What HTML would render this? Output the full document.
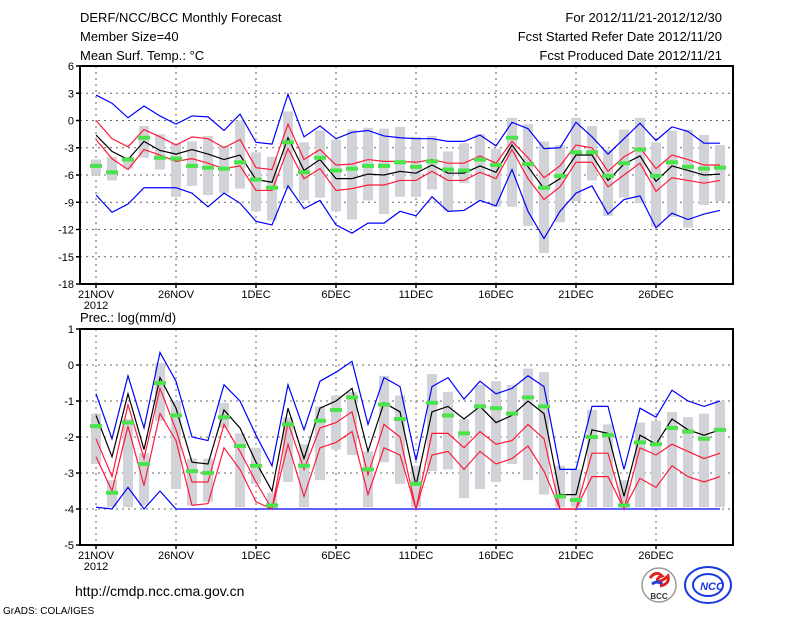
<!DOCTYPE html>
<html><head><meta charset="utf-8"><style>
body{margin:0;background:#fff;width:800px;height:618px;overflow:hidden}
svg{display:block;font-family:"Liberation Sans",sans-serif}
</style></head><body>
<svg id="chart" width="800" height="618" viewBox="0 0 800 618">
<g font-size="13" fill="#000">
<text x="80" y="22">DERF/NCC/BCC Monthly Forecast</text>
<text x="80" y="41">Member Size=40</text>
<text x="80" y="60">Mean Surf. Temp.: °C</text>
<text x="722" y="22" text-anchor="end">For 2012/11/21-2012/12/30</text>
<text x="722" y="41" text-anchor="end">Fcst Started Refer Date 2012/11/20</text>
<text x="722" y="60" text-anchor="end">Fcst Produced Date 2012/11/21</text>
<text x="80" y="322">Prec.: log(mm/d)</text>
<text x="75" y="596" font-size="14">http://cmdp.ncc.cma.gov.cn</text>
<text x="3" y="614" font-size="10">GrADS: COLA/IGES</text>
</g>
<g>
<circle cx="659" cy="585" r="17" fill="#fff" stroke="#999" stroke-width="1.5"/>
<path d="M650 578 q6 -8 12 -2 q-6 2 -4 6 q6 -2 10 -6 q2 8 -8 10" fill="none" stroke="#e02020" stroke-width="3"/>
<path d="M652 584 q6 -4 10 0" fill="none" stroke="#2040d0" stroke-width="3"/>
<text x="659" y="599" font-size="8" text-anchor="middle" font-weight="bold" fill="#333">BCC</text>
</g>
<g>
<ellipse cx="708" cy="585" rx="23" ry="18" fill="#fff" stroke="#1a3ae0" stroke-width="2"/>
<ellipse cx="708" cy="585" rx="15" ry="11" fill="none" stroke="#1a3ae0" stroke-width="2"/>
<text x="712" y="590" font-size="11" text-anchor="middle" font-style="italic" font-weight="bold" fill="#1a3ae0">NCC</text>
</g>
<g id="panels"></g>
</svg>
<script>
// ---- temperature panel data ----
const tMax=[2.8,1.9,0.3,1.6,0.5,-0.4,0.5,0.4,-1.1,0.7,-2.4,-2.6,2.9,-1.8,-0.6,-2,-1.3,-1.1,-1.7,-1.9,-2,-2,-2.3,-2.3,-1.6,-2.8,-0.2,-0.9,-3.1,-3,-0.2,-1.8,-3.7,-2,-0.3,-2.2,-0.7,-1.2,-2.5,-2.5];
const tUp=[0,-2,-2.9,-1,-1.8,-2.7,-1.8,-2,-3,-2.1,-5.2,-5.4,-0.4,-4.3,-3.2,-4.9,-4.8,-4.3,-4.5,-4.5,-4.6,-4.3,-4.7,-4.7,-3.9,-4.7,-2.3,-4.1,-6.3,-5,-2.7,-3,-5.6,-4,-3,-5.3,-3.8,-4.3,-4.9,-4.9];
const tMean=[-1.6,-3.4,-4.3,-2.3,-3.3,-3.7,-3.2,-3.7,-4.3,-3.8,-6.5,-6.8,-1.9,-5.5,-4.3,-6.4,-6.4,-5.9,-6,-5.6,-5.8,-4.9,-5.8,-5.8,-5,-5.7,-2.7,-5.1,-7.5,-6.4,-3.8,-3.8,-6.6,-4.8,-3.9,-6.7,-5,-5.5,-6,-5.9];
const tLow=[-2.1,-4.2,-5.4,-3.2,-3.8,-4.5,-4.2,-4.7,-5.3,-5,-7.7,-7.7,-3.1,-6.4,-5.3,-7.7,-7.5,-7.1,-7.1,-6.6,-6.6,-5.6,-6.6,-6.6,-5.7,-6.4,-3.2,-6.4,-8.7,-7.3,-4.6,-4.6,-7.3,-6,-4.7,-7.8,-6.3,-6.6,-6.9,-6.6];
const tMin=[-8.2,-10.1,-9.2,-7.4,-7.4,-7.4,-8,-9.5,-8,-9.1,-11.1,-11.5,-7.2,-9.7,-8.8,-11.5,-12.4,-11.3,-11.3,-10,-10.5,-8.4,-10,-9.9,-8.8,-9.4,-5.4,-10,-13,-10,-8,-7.2,-10.3,-8.7,-8.3,-11.8,-10.2,-10.9,-10.3,-9.9];
const tObs=[-5,-5.7,-4.3,-1.9,-4.1,-4.2,-5,-5.2,-5.3,-4.6,-6.5,-7.4,-2.4,-5.7,-4.1,-5.5,-5.3,-5,-5,-4.6,-5.1,-4.5,-5.4,-5.5,-4.3,-4.9,-1.9,-4.8,-7.4,-6.1,-3.5,-3.5,-6.1,-4.7,-3.2,-6.1,-4.6,-5.1,-5.3,-5.2];
const tBarHi=[-4.3,-4,-4,-0.6,-1.5,-2.5,-2.3,-1.7,-2.8,0,-3.5,-4,1,-2.4,-1.1,-2.1,-1,-0.8,-0.9,-0.7,-1.8,-1.7,-3.4,-2.5,-1.5,-3.1,0.3,-0.4,-2.3,-2.7,0.3,-0.6,-3.2,-1,0.3,-2.4,-1.1,-1,-1.6,-2.7];
const tBarLo=[-6,-6.6,-5.3,-4.1,-5.4,-8.4,-7.2,-8.2,-8,-7.5,-10,-11,-7.5,-8.8,-8.5,-10,-10.9,-8.8,-10.3,-8.4,-8.4,-7.6,-9.9,-6.9,-8.8,-9.5,-9.5,-11.6,-14.6,-11.2,-8.9,-6.6,-10.5,-8.5,-9.1,-11.7,-10.6,-11.8,-9.3,-8.9];
const tTicks=[6,3,0,-3,-6,-9,-12,-15,-18];
// ---- precipitation panel data ----
const pMax=[-0.8,-2.05,-0.3,-1.75,0.35,-0.45,-2,-2.1,-0.55,-1,-1.95,-2.8,-0.55,-1.8,-0.45,-0.2,0.1,-1.65,-0.35,-0.6,-2.65,-0.6,-0.35,-0.95,-0.45,-0.8,-0.65,-0.3,-0.6,-2.9,-2.9,-1.15,-1.15,-2.9,-1.2,-1.45,-0.7,-1,-1.15,-1];
const pUp=[-2.05,-3.1,-1.1,-2.6,-0.65,-1.8,-3.25,-3.25,-1.65,-2.4,-3.25,-4,-1.6,-2.9,-1.75,-1.6,-1.3,-3.05,-1.65,-2,-4,-1.9,-1.9,-2.3,-1.85,-2.2,-2.1,-1.65,-2.05,-4,-4,-2.45,-2.45,-4,-2.3,-2.5,-2.2,-2.4,-2.6,-2.45];
const pMean=[-1.4,-2.55,-0.8,-2.35,-0.35,-1.2,-2.7,-2.75,-1.25,-1.75,-2.7,-3.5,-1.2,-2.6,-1.2,-1,-0.65,-2.4,-1.05,-1.3,-3.35,-1.3,-1.15,-1.5,-1.15,-1.6,-1.4,-1,-1.35,-3.6,-3.6,-1.8,-1.9,-3.65,-1.95,-2.2,-1.5,-1.8,-1.95,-1.8];
const pLow=[-2.55,-3.5,-1.7,-3.35,-1.35,-2.1,-3.9,-3.85,-2.3,-2.9,-3.8,-4,-2.2,-3.65,-2.3,-2.15,-1.85,-3.6,-2.3,-2.5,-4,-2.5,-2.4,-2.9,-2.4,-2.75,-2.6,-2.25,-2.95,-4,-4,-3.1,-3.1,-4,-3.15,-3.4,-2.8,-3.1,-3.25,-3.1];
const pMin=[-3.95,-4,-3.4,-4,-3.5,-4,-4,-4,-4,-4,-4,-4,-4,-4,-4,-4,-4,-4,-4,-4,-4,-4,-4,-4,-4,-4,-4,-4,-4,-4,-4,-4,-4,-4,-4,-4,-4,-4,-4,-4];
const pObs=[-1.7,-3.55,-1.6,-2.75,-0.5,-1.4,-2.95,-3,-1.45,-2.25,-2.8,-3.9,-1.65,-2.8,-1.55,-1.25,-0.9,-2.9,-1.1,-1.5,-3.3,-1.05,-1.4,-1.9,-1.15,-1.2,-1.35,-0.9,-1.15,-3.65,-3.75,-2,-1.95,-3.9,-2.15,-2.2,-1.75,-1.85,-2.05,-1.8];
const pBarHi=[-1.35,-3.2,-1.5,-2.45,0.05,-1,-2.6,-2.6,-1.05,-1.9,-2.3,-3.55,-1.45,-2.2,-1.15,-0.85,-0.75,-2.4,-0.3,-0.85,-2.8,-0.25,-0.75,-1.5,-0.55,-0.45,-0.55,-0.1,-0.2,-2.8,-2.9,-1.25,-1.65,-3.2,-1.6,-1.55,-1.3,-1.45,-1.35,-1];
const pBarLo=[-2.75,-3.95,-3.95,-3.9,-1.55,-3.45,-3.9,-3.8,-1.75,-3.95,-3.3,-4,-3.25,-3.95,-3.2,-2.35,-2.5,-3.95,-2.7,-3.3,-3.95,-2.95,-2.9,-3.7,-3.45,-3.25,-2.75,-3.2,-3.6,-3.95,-3.95,-3.95,-3.95,-3.95,-3.95,-3.95,-3.95,-3.95,-3.95,-3.95];
const pTicks=[1,0,-1,-2,-3,-4,-5];
const dateLabels=["21NOV","26NOV","1DEC","6DEC","11DEC","16DEC","21DEC","26DEC"];

const NS="http://www.w3.org/2000/svg";
const root=document.getElementById('panels');
const X0=96,DX=16,LEFT=80,RIGHT=733;
function xs(i){return X0+i*DX;}
function mk(tag,attrs,parent){const e=document.createElementNS(NS,tag);for(const k in attrs)e.setAttribute(k,attrs[k]);(parent||root).appendChild(e);return e;}

function panel(name,top,bottom,vmax,vmin,ticks,series,bars,obs){
  const g=mk('g',{});
  
  
  const ys=v=>top+(vmax-v)/(vmax-vmin)*(bottom-top);
  // grid
  ticks.forEach(t=>{
    if(t!==vmax&&t!==vmin){const l=mk('line',{x1:LEFT,x2:RIGHT,y1:ys(t),y2:ys(t),stroke:'#666','stroke-dasharray':'2,4','stroke-width':1},g);
    
    }
    const tk=mk('line',{x1:LEFT-4,x2:LEFT,y1:ys(t),y2:ys(t),stroke:'#000','stroke-width':1.5},g);
    
    
    const tx=mk('text',{x:LEFT-6,y:ys(t)+4,'text-anchor':'end','font-size':11},g);
    tx.textContent=String(t);
    
    
  });
  dateLabels.forEach((d,k)=>{
    const x=xs(k*5);
    const l=mk('line',{x1:x,x2:x,y1:top,y2:bottom,stroke:'#666','stroke-dasharray':'2,4','stroke-width':1},g);
    
    
    const tk=mk('line',{x1:x,x2:x,y1:bottom,y2:bottom+4,stroke:'#000','stroke-width':1.5},g);
    
    
    const tx=mk('text',{x:x,y:bottom+14,'text-anchor':'middle','font-size':11},g);
    tx.textContent=d;
    
    
  });
  const yr=mk('text',{x:xs(0),y:bottom+25,'text-anchor':'middle','font-size':11},g);
  yr.textContent='2012';
  
  
  // bars
  bars[0].forEach((hi,i)=>{
    const lo=bars[1][i];
    const r=mk('rect',{x:xs(i)-5,y:ys(hi),width:10,height:Math.max(1,ys(lo)-ys(hi)),fill:'#d2d3d8'},g);
    
    
  });
  // lines
  series.forEach(s=>{
    const p=mk('polyline',{points:s.d.map((v,i)=>xs(i)+','+ys(v)).join(' '),fill:'none',stroke:s.c,'stroke-width':1.2},g);
    
    
  });
  // obs
  obs.forEach((v,i)=>{
    const r=mk('rect',{x:xs(i)-6,y:ys(v)-2,width:12,height:4,fill:'#4be34b'},g);
    
    
  });
  const f=mk('rect',{x:LEFT,y:top,width:RIGHT-LEFT,height:bottom-top,fill:'none',stroke:'#000','stroke-width':2},g);
  
  
}
panel('temperature-panel',66,284,6,-18,tTicks,[
  {d:tMax,c:'#0000ff',n:'max-line'},{d:tMin,c:'#0000ff',n:'min-line'},
  {d:tUp,c:'#ff1a3c',n:'upper-line'},{d:tLow,c:'#ff1a3c',n:'lower-line'},
  {d:tMean,c:'#000',n:'mean-line'}],[tBarHi,tBarLo],tObs);
panel('precipitation-panel',329,545,1,-5,pTicks,[
  {d:pMax,c:'#0000ff',n:'max-line'},{d:pMin,c:'#0000ff',n:'min-line'},
  {d:pUp,c:'#ff1a3c',n:'upper-line'},{d:pLow,c:'#ff1a3c',n:'lower-line'},
  {d:pMean,c:'#000',n:'mean-line'}],[pBarHi,pBarLo],pObs);
</script>
</body></html>
